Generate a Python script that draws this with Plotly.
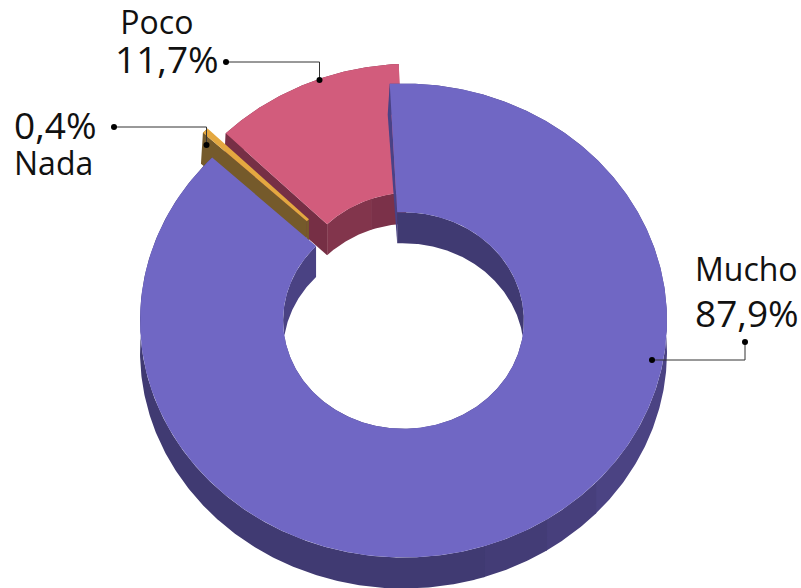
import numpy as np
import plotly.graph_objects as go

# Values, clockwise in drawing order from the top
categories = ["Mucho", "Nada", "Poco"]
shares = [87.9, 0.4, 11.7]
percent_labels = ["87,9%", "0,4%", "11,7%"]

top_colors = {"Mucho": "#7067c4", "Nada": "#e4a840", "Poco": "#d25c7c"}
cut_colors = {"Mucho": "#4a4286", "Nada": "#755a2b", "Poco": "#762f45"}
# wall shading: (clockwise angle where the tone ends, colour)
outer_tones = {
    "Mucho": [(133, "#4b4383"), (147, "#473f7c"), (162, "#433c76"), (400, "#403a72")],
    "Nada": [(400, "#755a2b")],
    "Poco": [(400, "#7b3149")],
}
inner_tones = {
    "Mucho": [(250, "#403a72"), (400, "#4a4283")],
    "Nada": [(400, "#755a2b")],
    "Poco": [(340, "#82354c"), (400, "#7b3149")],
}

W, H = 801, 588
CX, CY, RX, RY = 403.5, 320.5, 263.5, 237.0  # where the unit circle lands on the page
HOLE = 0.457
DEPTH = 31 / RY
START_ANGLE = -3.0
# how far each slice is pulled out of the ring, in axis units
pull = {"Mucho": (0, 0), "Nada": (-0.035, 0.105), "Poco": (0.034, 0.084)}


def to_x(px):
    return (px - CX) / RX


def to_y(py):
    return (CY - py) / RY


def arc(radius, a0, a1, dx, dy):
    t = np.radians(np.linspace(a0, a1, max(int(abs(a1 - a0) * 2), 2)))
    return dx + radius * np.sin(t), dy + radius * np.cos(t)


def polygon(fig, xs, ys, color):
    fig.add_trace(go.Scatter(
        x=np.append(xs, xs[0]), y=np.append(ys, ys[0]),
        mode="lines", fill="toself", fillcolor=color,
        line=dict(width=0), hoverinfo="skip", showlegend=False,
    ))


def wall(fig, radius, a0, a1, dx, dy, tones):
    # split the wall into its shading bands
    start = a0
    for end, color in tones:
        stop = min(end, a1)
        if stop > start:
            x, y = arc(radius, start, stop + 0.3 if stop < a1 else stop, dx, dy)
            polygon(fig, np.r_[x, x[::-1]], np.r_[y, y[::-1] - DEPTH], color)
            start = stop


fig = go.Figure()

# slice angles, clockwise from the top
angles = {}
a = START_ANGLE
for name, share in zip(categories, shares):
    angles[name] = (a, a + share * 3.6)
    a += share * 3.6

# back to front: Poco, then Nada, then the big slice over both
for name in ["Poco", "Nada", "Mucho"]:
    a0, a1 = angles[name]
    dx, dy = pull[name]
    wall(fig, 1, a0, a1, dx, dy, outer_tones[name])
    wall(fig, HOLE, a0, a1, dx, dy, inner_tones[name])

    # only the cut face at the start of the slice looks towards the viewer
    ox, oy = arc(1, a0, a0, dx, dy)
    ix, iy = arc(HOLE, a0, a0, dx, dy)
    lean = 2 / RX
    polygon(fig, np.r_[ox[0], ix[0], ix[0], ox[0] - lean],
            np.r_[oy[0], iy[0], iy[0] - DEPTH, oy[0] - DEPTH], cut_colors[name])

    ox, oy = arc(1, a0, a1, dx, dy)
    ix, iy = arc(HOLE, a1, a0, dx, dy)
    polygon(fig, np.r_[ox, ix], np.r_[oy, iy], top_colors[name])

# leader lines, given in page pixels
leaders = [
    [(652, 360), (745, 360), (745, 342)],
    [(114, 127), (206.5, 127), (206.5, 145)],
    [(226, 62), (319.5, 62), (319.5, 80)],
]
for pts in leaders:
    xs = [to_x(p[0]) for p in pts]
    ys = [to_y(p[1]) for p in pts]
    fig.add_trace(go.Scatter(x=xs, y=ys, mode="lines", line=dict(color="#333333", width=1),
                             hoverinfo="skip", showlegend=False))
    fig.add_trace(go.Scatter(x=[xs[0], xs[-1]], y=[ys[0], ys[-1]], mode="markers",
                             marker=dict(color="#000000", size=6),
                             hoverinfo="skip", showlegend=False))


def name_span(text):
    return f'<span style="font-size:32px">{text}</span>'


def pct_span(text):
    return f'<span style="font-size:37px">{text}</span>'


# (text, left edge px, middle px, base size that sets the line spacing)
labels = [
    (name_span(categories[0]) + "<br>" + pct_span(percent_labels[0]), 694, 292.5, 35),
    (pct_span(percent_labels[1]) + "<br>" + name_span(categories[1]), 13, 141, 28),
    (name_span("\u2009" + categories[2]) + "<br>" + pct_span(percent_labels[2]), 114, 42, 30),
]
for text, px, py, size in labels:
    fig.add_annotation(x=to_x(px), y=to_y(py), text=text, showarrow=False,
                       xanchor="left", yanchor="middle", align="left", borderpad=0,
                       font=dict(family="Open Sans", size=size, color="#111111"))

fig.update_xaxes(visible=False, range=[to_x(0), to_x(W)], fixedrange=True)
fig.update_yaxes(visible=False, range=[to_y(H), to_y(0)], fixedrange=True)
fig.update_layout(
    width=W, height=H,
    margin=dict(l=0, r=0, t=0, b=0),
    plot_bgcolor="white", paper_bgcolor="white",
    showlegend=False,
)

fig.write_html("out.html", config=dict(displayModeBar=False),
               post_script="document.body.style.margin='0';")
